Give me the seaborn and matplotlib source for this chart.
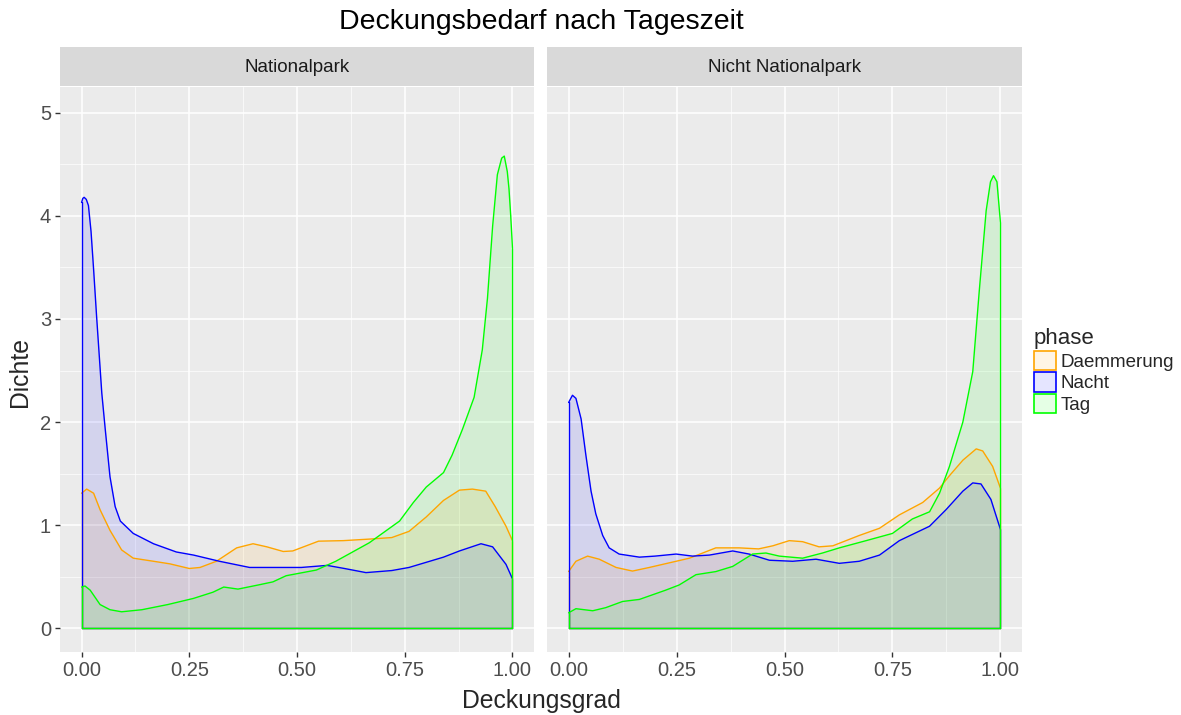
import numpy as np
import pandas as pd
import matplotlib
matplotlib.use("Agg")
import matplotlib.pyplot as plt
from matplotlib.patches import Patch
import seaborn as sns

# Dichtekurven
# Panel "Nationalpark"
np_daem_x = [0.0, 0.012, 0.028, 0.043, 0.066, 0.093, 0.12, 0.167, 0.205, 0.25, 0.275, 0.313, 0.36, 0.398,
             0.43, 0.468, 0.49, 0.55, 0.607, 0.668, 0.72, 0.76, 0.80, 0.84, 0.877, 0.907, 0.938, 0.96, 0.985, 1.0]
np_daem_y = [1.31, 1.35, 1.31, 1.15, 0.95, 0.76, 0.68, 0.65, 0.625, 0.58, 0.59, 0.65, 0.78, 0.82,
             0.79, 0.745, 0.75, 0.845, 0.85, 0.865, 0.88, 0.94, 1.08, 1.24, 1.34, 1.35, 1.33, 1.18, 0.99, 0.85]
np_nacht_x = [0.0, 0.003, 0.006, 0.011, 0.016, 0.022, 0.028, 0.035, 0.047, 0.055, 0.066, 0.078, 0.09, 0.12,
              0.167, 0.22, 0.26, 0.32, 0.39, 0.51, 0.57, 0.61, 0.66, 0.72, 0.76, 0.84, 0.877, 0.927,
              0.954, 0.985, 1.0]
np_nacht_y = [4.13, 4.17, 4.18, 4.16, 4.10, 3.85, 3.48, 3.02, 2.28, 1.93, 1.47, 1.18, 1.04, 0.92,
              0.82, 0.74, 0.71, 0.65, 0.59, 0.59, 0.61, 0.58, 0.54, 0.56, 0.59, 0.69, 0.75, 0.82,
              0.79, 0.62, 0.48]
np_tag_x = [0.0, 0.008, 0.02, 0.043, 0.066, 0.093, 0.14, 0.20, 0.26, 0.305, 0.33, 0.363, 0.41, 0.444,
            0.475, 0.545, 0.59, 0.668, 0.738, 0.77, 0.80, 0.84, 0.86, 0.884, 0.911, 0.93, 0.942, 0.954,
            0.965, 0.975, 0.981, 0.988, 0.992, 0.996, 1.0]
np_tag_y = [0.40, 0.41, 0.37, 0.23, 0.18, 0.16, 0.18, 0.23, 0.29, 0.35, 0.40, 0.38, 0.42, 0.45,
            0.51, 0.565, 0.65, 0.83, 1.04, 1.22, 1.37, 1.51, 1.68, 1.93, 2.24, 2.70, 3.20, 3.90,
            4.40, 4.56, 4.58, 4.43, 4.26, 4.00, 3.69]

# Panel "Nicht Nationalpark"
nn_daem_x = [0.0, 0.017, 0.044, 0.071, 0.11, 0.148, 0.187, 0.249, 0.28, 0.341, 0.395, 0.44, 0.473, 0.511,
             0.542, 0.58, 0.612, 0.673, 0.72, 0.766, 0.82, 0.859, 0.882, 0.913, 0.944, 0.959, 0.982, 1.0]
nn_daem_y = [0.55, 0.65, 0.70, 0.67, 0.59, 0.555, 0.59, 0.65, 0.68, 0.78, 0.78, 0.77, 0.80, 0.85,
             0.84, 0.79, 0.80, 0.90, 0.97, 1.10, 1.22, 1.36, 1.48, 1.63, 1.74, 1.72, 1.57, 1.36]
nn_nacht_x = [0.0, 0.009, 0.017, 0.029, 0.04, 0.052, 0.063, 0.079, 0.094, 0.117, 0.164, 0.20, 0.249, 0.287,
              0.326, 0.38, 0.418, 0.465, 0.519, 0.573, 0.627, 0.673, 0.72, 0.766, 0.836, 0.874, 0.913,
              0.936, 0.955, 0.978, 1.0]
nn_nacht_y = [2.19, 2.26, 2.23, 2.03, 1.68, 1.33, 1.11, 0.90, 0.78, 0.72, 0.69, 0.70, 0.72, 0.70,
              0.71, 0.75, 0.72, 0.66, 0.65, 0.67, 0.63, 0.65, 0.71, 0.85, 0.99, 1.15, 1.33,
              1.41, 1.40, 1.25, 0.96]
nn_tag_x = [0.0, 0.017, 0.056, 0.086, 0.125, 0.164, 0.225, 0.256, 0.295, 0.341, 0.38, 0.426, 0.457, 0.488,
            0.542, 0.588, 0.627, 0.689, 0.75, 0.796, 0.836, 0.859, 0.882, 0.913, 0.936, 0.951, 0.967,
            0.977, 0.984, 0.992, 1.0]
nn_tag_y = [0.15, 0.19, 0.17, 0.20, 0.26, 0.28, 0.37, 0.42, 0.52, 0.55, 0.60, 0.72, 0.73, 0.70,
            0.68, 0.73, 0.78, 0.85, 0.92, 1.06, 1.13, 1.31, 1.57, 2.00, 2.49, 3.27, 4.05,
            4.33, 4.39, 4.33, 3.94]

panels = ["Nationalpark", "Nicht Nationalpark"]
phases = ["Daemmerung", "Nacht", "Tag"]
farben = {"Daemmerung": "#FFA500", "Nacht": "#0000FF", "Tag": "#00FF00"}

kurven = {
    ("Nationalpark", "Daemmerung"): (np_daem_x, np_daem_y),
    ("Nationalpark", "Nacht"): (np_nacht_x, np_nacht_y),
    ("Nationalpark", "Tag"): (np_tag_x, np_tag_y),
    ("Nicht Nationalpark", "Daemmerung"): (nn_daem_x, nn_daem_y),
    ("Nicht Nationalpark", "Nacht"): (nn_nacht_x, nn_nacht_y),
    ("Nicht Nationalpark", "Tag"): (nn_tag_x, nn_tag_y),
}

rows = []
for (gebiet, phase), (xs, ys) in kurven.items():
    for xv, yv in zip(xs, ys):
        rows.append({"gebiet": gebiet, "phase": phase, "Deckungsgrad": xv, "Dichte": yv})
df = pd.DataFrame(rows)

sns.set_theme(style="darkgrid", rc={
    "axes.facecolor": "#EBEBEB",
    "grid.color": "white",
    "axes.edgecolor": "#EBEBEB",
})
plt.rcParams["font.family"] = ["Liberation Sans", "DejaVu Sans"]

fig = plt.figure(figsize=(11.81, 7.15), dpi=100)
ax_bottom = 1 - 652 / 715
ax_height = (652 - 87) / 715
axes = [
    fig.add_axes([60 / 1181, ax_bottom, 474 / 1181, ax_height]),
    fig.add_axes([547 / 1181, ax_bottom, 475 / 1181, ax_height]),
]

for ax, gebiet in zip(axes, panels):
    sub = df[df["gebiet"] == gebiet]
    for phase in phases:
        d = sub[sub["phase"] == phase]
        xs = d["Deckungsgrad"].to_numpy()
        ys = d["Dichte"].to_numpy()
        c = farben[phase]
        ax.fill_between(xs, ys, 0, color=c, alpha=0.1, lw=0, zorder=2)
        # Polygonrand wie bei geom_density
        ax.plot([xs[0], xs[0]], [0, ys[0]], color=c, lw=1, zorder=3)
        ax.plot([xs[-1], xs[-1]], [0, ys[-1]], color=c, lw=1, zorder=3)
        ax.plot([xs[0], xs[-1]], [0, 0], color=c, lw=1, zorder=3)
        sns.lineplot(data=d, x="Deckungsgrad", y="Dichte", color=c, lw=1, sort=False,
                     estimator=None, ax=ax, zorder=3)

    ax.set_xlim(-0.05, 1.05)
    ax.set_ylim(-0.23, 5.25)
    ax.set_xticks([0, 0.25, 0.5, 0.75, 1.0])
    ax.set_xticklabels(["0.00", "0.25", "0.50", "0.75", "1.00"])
    ax.set_yticks([0, 1, 2, 3, 4, 5])
    ax.set_xticks(np.arange(0.125, 1.0, 0.25), minor=True)
    ax.set_yticks(np.arange(0.5, 5.0, 1.0), minor=True)
    ax.grid(which="major", color="white", lw=1.1)
    ax.grid(which="minor", color="white", lw=0.5)
    ax.tick_params(which="major", length=3.5, width=1, color="#333333", labelsize=14.5,
                   labelcolor="#4D4D4D", bottom=True, left=True, pad=3)
    ax.tick_params(which="minor", length=0)
    for s in ax.spines.values():
        s.set_visible(False)
    ax.set_xlabel("")
    ax.set_ylabel("")
    # Facetten-Streifen
    ax.text(0.5, 1.0 + 20 / 565, gebiet, transform=ax.transAxes, ha="center", va="center",
            fontsize=13.5, color="#1A1A1A", zorder=5)
    strip = plt.Rectangle((0, 1.0 + 1 / 565), 1, 39 / 565, transform=ax.transAxes,
                          facecolor="#D9D9D9", edgecolor="none", clip_on=False, zorder=1)
    ax.add_patch(strip)

axes[1].set_yticklabels([])
axes[1].tick_params(axis="y", left=False)

fig.text(541 / 1181, 1 - 22 / 715, "Deckungsbedarf nach Tageszeit", ha="center", va="center",
         fontsize=20.5, color="black")
fig.text(541 / 1181, 1 - 701 / 715, "Deckungsgrad", ha="center", va="center", fontsize=17.8)
fig.text(20 / 1181, 1 - 372 / 715, "Dichte", ha="center", va="center", rotation=90, fontsize=17.8)

handles = [Patch(facecolor=matplotlib.colors.to_rgba(farben[p], 0.1), edgecolor=farben[p], lw=1.2)
           for p in phases]
leg = fig.legend(handles, phases, title="phase", loc="upper left",
                 bbox_to_anchor=(1030 / 1181, 1 - 324 / 715), frameon=False, fontsize=13.5,
                 title_fontsize=16, handlelength=1.2, handleheight=1.2, handletextpad=0.25,
                 labelspacing=0.1, borderaxespad=0, borderpad=0.2)
leg._legend_box.align = "left"

fig.savefig("out.png", dpi=100)
